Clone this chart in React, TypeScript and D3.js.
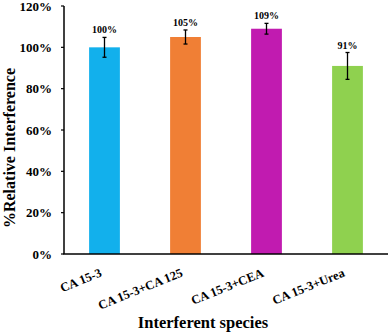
import React from "react";
import * as d3 from "d3";

const categories = ["CA 15-3", "CA 15-3+CA 125", "CA 15-3+CEA", "CA 15-3+Urea"];
const values = [100, 105, 109, 91];
const errors = [4.8, 3.4, 2.6, 6.5];
const valueLabels = ["100%", "105%", "109%", "91%"];
const colors = ["#12B0EC", "#F07F35", "#C11BB0", "#8FD14F"];
const yTicks = [0, 20, 40, 60, 80, 100, 120];

export default function App() {
  const W = 390, H = 334;
  const left = 64, right = 388, top = 6, bottom = 254;
  const x = d3.scaleBand<string>().domain(categories).range([left, right]).paddingInner(0.62).paddingOuter(0.31);
  const y = d3.scaleLinear().domain([0, 120]).range([bottom, top]);
  const font = "'Liberation Serif', 'Times New Roman', serif";
  return (
    <svg width={W} height={H} style={{ position: "absolute", left: 0, top: 0 }} fontFamily={font} fontWeight="bold">
      {categories.map((c, i) => {
        const bx = x(c)!;
        const cx = bx + x.bandwidth() / 2;
        const yt = y(values[i] + errors[i]);
        const yb = y(values[i] - errors[i]);
        return (
          <g key={c}>
            <rect x={bx} y={y(values[i])} width={x.bandwidth()} height={bottom - y(values[i])} fill={colors[i]} />
            <line x1={cx} x2={cx} y1={yt} y2={yb} stroke="#000" strokeWidth={1.3} />
            <line x1={cx - 2} x2={cx + 2} y1={yt} y2={yt} stroke="#000" strokeWidth={1.3} />
            <line x1={cx - 2} x2={cx + 2} y1={yb} y2={yb} stroke="#000" strokeWidth={1.3} />
            <text x={cx} y={yt - 4} textAnchor="middle" fontSize={10}>{valueLabels[i]}</text>
            <text transform={`translate(${cx - 2},${bottom + 22}) rotate(-22)`} textAnchor="end" fontSize={12.5}>{c}</text>
          </g>
        );
      })}
      <line x1={left} x2={left} y1={top} y2={bottom} stroke="#000" strokeWidth={1.5} />
      <line x1={left - 0.75} x2={right} y1={bottom} y2={bottom} stroke="#000" strokeWidth={1.5} />
      {yTicks.map((t) => (
        <g key={t}>
          <line x1={left - 3} x2={left} y1={y(t)} y2={y(t)} stroke="#000" strokeWidth={1.2} />
          <text x={52} y={y(t)} dy="0.35em" textAnchor="end" fontSize={13}>{t}%</text>
        </g>
      ))}
      <text transform={`translate(15,148) rotate(-90)`} textAnchor="middle" fontSize={16}>%Relative Interference</text>
      <text x={203} y={328} textAnchor="middle" fontSize={16.5}>Interferent species</text>
    </svg>
  );
}
